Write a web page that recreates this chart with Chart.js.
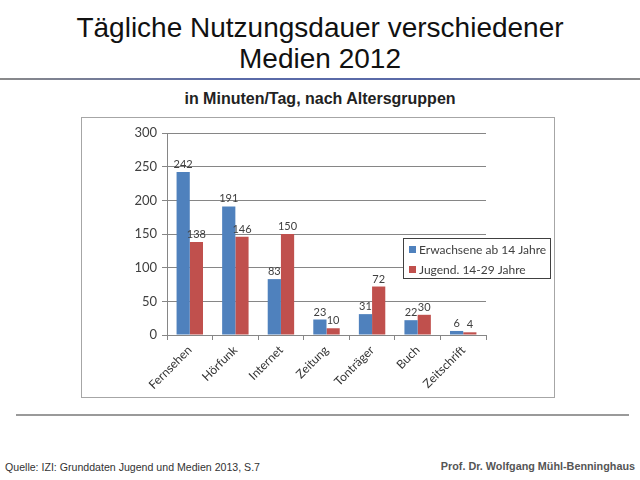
<!DOCTYPE html>
<html>
<head>
<meta charset="utf-8">
<script src="https://cdn.jsdelivr.net/npm/chart.js@4/dist/chart.umd.min.js"></script>
<style>
  body { margin: 0; width: 640px; height: 480px; background: #fff; position: relative; overflow: hidden; font-family: "Liberation Sans", Arial, sans-serif; }
  .title { position: absolute; left: 0; width: 640px; top: 12px; text-align: center; font-size: 28px; line-height: 31px; color: #111; }
  .rule { position: absolute; left: 0; top: 78px; width: 640px; height: 2px; background: linear-gradient(to right, #8a8a8a, #5a6aa8 35%, #5a6aa8 65%, #8a8a8a); }
  .subtitle { position: absolute; left: 0; width: 640px; top: 90px; text-align: center; font-size: 16px; font-weight: bold; color: #222; }
  .box { position: absolute; left: 81px; top: 117px; width: 472px; height: 279px; border: 1px solid #a6a6a6; }
  .bottomrule { position: absolute; left: 16px; top: 414px; width: 613px; height: 2px; background: #9a9a9a; }
  .src { position: absolute; left: 5px; top: 461px; font-size: 10.6px; color: #333; }
  .prof { position: absolute; right: 5px; top: 460px; font-size: 10.8px; font-weight: bold; color: #555; }
</style>
</head>
<body>
<div class="title">Tägliche Nutzungsdauer verschiedener<br>Medien 2012</div>
<div class="rule"></div>
<div class="subtitle">in Minuten/Tag, nach Altersgruppen</div>
<div class="box"><canvas id="chart" width="472" height="279"></canvas></div>
<div class="bottomrule"></div>
<div class="src">Quelle: IZI: Grunddaten Jugend und Medien 2013, S.7</div>
<div class="prof">Prof. Dr. Wolfgang Mühl-Benninghaus</div>
<script>
// Daten
const categories = ['Fernsehen', 'Hörfunk', 'Internet', 'Zeitung', 'Tonträger', 'Buch', 'Zeitschrift'];
const erwachsene = [242, 191, 83, 23, 31, 22, 6];
const jugend = [138, 146, 150, 10, 72, 30, 4];
const seriesNames = ['Erwachsene ab 14 Jahre', 'Jugend. 14-29 Jahre'];
const yTicks = [0, 50, 100, 150, 200, 250, 300];

const labelFont = '"Lato", "Liberation Sans", sans-serif';

// Werte über den Balken
const valueLabels = {
    id: 'valueLabels',
    afterDatasetsDraw(chart) {
        const ctx = chart.ctx;
        ctx.save();
        ctx.font = '11px ' + labelFont;
        ctx.fillStyle = '#404040';
        ctx.textAlign = 'center';
        ctx.textBaseline = 'bottom';
        chart.data.datasets.forEach((ds, i) => {
            chart.getDatasetMeta(i).data.forEach((bar, j) => {
                ctx.fillText(ds.data[j], bar.x, bar.y - 2);
            });
        });
        ctx.restore();
    }
};

// Legende im Diagramm
const boxLegend = {
    id: 'boxLegend',
    afterDraw(chart) {
        const ctx = chart.ctx;
        const x = 321, y = 120, w = 147, h = 40;
        ctx.save();
        ctx.fillStyle = '#fff';
        ctx.fillRect(x, y, w, h);
        ctx.strokeStyle = '#404040';
        ctx.lineWidth = 1;
        ctx.strokeRect(x + 0.5, y + 0.5, w, h);
        ctx.font = '12px ' + labelFont;
        ctx.textBaseline = 'middle';
        chart.data.datasets.forEach((ds, i) => {
            const ly = y + 11 + i * 20;
            ctx.fillStyle = ds.backgroundColor;
            ctx.fillRect(x + 6, ly - 3, 7, 7);
            ctx.fillStyle = '#404040';
            ctx.fillText(ds.label, x + 16, ly + 1);
        });
        ctx.restore();
    }
};

new Chart(document.getElementById('chart').getContext('2d'), {
    type: 'bar',
    data: {
        labels: categories,
        datasets: [
            { label: seriesNames[0], data: erwachsene, backgroundColor: '#4F81BD' },
            { label: seriesNames[1], data: jugend, backgroundColor: '#C0504D' }
        ]
    },
    options: {
        responsive: false,
        animation: false,
        layout: { padding: { top: 15, right: 68, left: 0, bottom: 0 } },
        datasets: { bar: { categoryPercentage: 0.58, barPercentage: 1.0 } },
        plugins: { legend: { display: false }, tooltip: { enabled: false } },
        scales: {
            x: {
                afterFit(scale) { scale.height = 62; },
                grid: { offset: true, drawOnChartArea: false, color: '#868686', tickLength: 5 },
                border: { color: '#868686' },
                ticks: { color: '#333', font: { family: labelFont, size: 12 }, minRotation: 45, maxRotation: 45 }
            },
            y: {
                min: 0, max: 300,
                afterFit(scale) { scale.width = 85; },
                afterBuildTicks(scale) { scale.ticks = yTicks.map(v => ({ value: v })); },
                grid: { color: '#868686', tickLength: 5 },
                border: { color: '#868686' },
                ticks: { color: '#404040', font: { family: labelFont, size: 13 }, padding: 5 }
            }
        }
    },
    plugins: [valueLabels, boxLegend]
});
</script>
</body>
</html>
